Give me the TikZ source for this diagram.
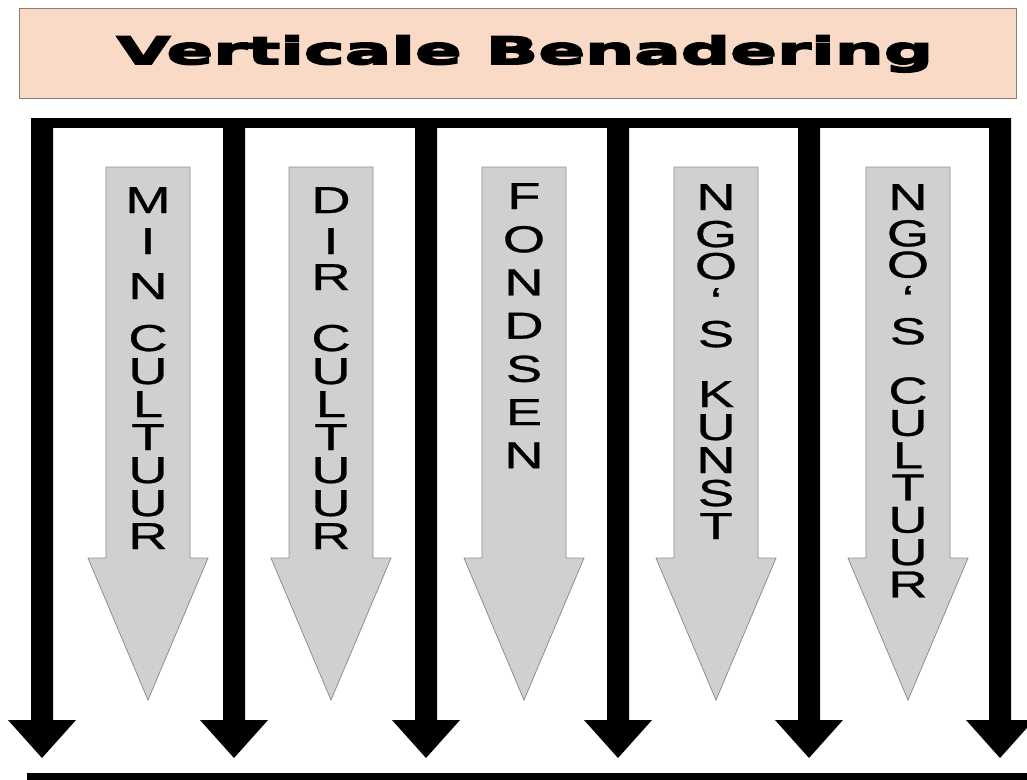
\documentclass[tikz,border=0pt]{standalone}
\usepackage{fontspec}
\newfontfamily\titlefont[FakeStretch=1.84,FakeBold=5]{DejaVu Sans}
\newfontfamily\labelfont[FakeStretch=1.45,FakeBold=0.8]{Liberation Sans}
\definecolor{titlefill}{HTML}{F9DAC6}
\definecolor{titleedge}{HTML}{8B7B70}
\definecolor{arrowgrey}{HTML}{D0D0D0}
\definecolor{arrowedge}{HTML}{8F8F8F}
\tikzset{
	bararrow/.style = {fill = black},
	greyarrow/.style = {fill = arrowgrey, draw = arrowedge, line width = 0.8pt},
	letters/.style = {anchor = north, inner sep = 0pt, align = center, font = \labelfont\fontsize{37.5}{#1}\selectfont},
	letters/.default = 33
}

\begin{document}
\begin{tikzpicture}[x = 1pt, y = -1pt]
	\useasboundingbox (0, 0) rectangle (1027, 779);
	\clip (0, 0) rectangle (1027, 779);
	\fill[white] (0, 0) rectangle (1027, 779);
%%%%%%%%%%%
	\draw[draw = titleedge, fill = titlefill, line width = 0.8pt] (19, 8) rectangle (1016, 98);
	\node[anchor = base, inner sep = 0pt, font = \titlefont\bfseries\fontsize{37.5}{40}\selectfont] (title) at (525, 64) {Verticale Benadering};
%%%%%%%%%%%
	\fill (31, 118) rectangle (1011, 128);
	\fill (27, 773) rectangle (1027, 790);
	\fill[bararrow] (31, 118) -- +(22, 0) -- +(22, 602) -- +(45, 602) -- +(11, 640) -- +(-23, 602) -- +(0, 602) -- cycle;
	\fill[bararrow] (223, 118) -- +(22, 0) -- +(22, 602) -- +(45, 602) -- +(11, 640) -- +(-23, 602) -- +(0, 602) -- cycle;
	\fill[bararrow] (415, 118) -- +(22, 0) -- +(22, 602) -- +(45, 602) -- +(11, 640) -- +(-23, 602) -- +(0, 602) -- cycle;
	\fill[bararrow] (607, 118) -- +(22, 0) -- +(22, 602) -- +(45, 602) -- +(11, 640) -- +(-23, 602) -- +(0, 602) -- cycle;
	\fill[bararrow] (798, 118) -- +(22, 0) -- +(22, 602) -- +(45, 602) -- +(11, 640) -- +(-23, 602) -- +(0, 602) -- cycle;
	\fill[bararrow] (989, 118) -- +(22, 0) -- +(22, 602) -- +(45, 602) -- +(11, 640) -- +(-23, 602) -- +(0, 602) -- cycle;
%%%%%%%%%%%
	\filldraw[greyarrow] (106, 167) -- +(84, 0) -- +(84, 391) -- +(102, 391) -- +(42, 533) -- +(-18, 391) -- +(0, 391) -- cycle;
	\filldraw[greyarrow] (289, 167) -- +(84, 0) -- +(84, 391) -- +(102, 391) -- +(42, 533) -- +(-18, 391) -- +(0, 391) -- cycle;
	\filldraw[greyarrow] (482, 167) -- +(84, 0) -- +(84, 391) -- +(102, 391) -- +(42, 533) -- +(-18, 391) -- +(0, 391) -- cycle;
	\filldraw[greyarrow] (674, 167) -- +(84, 0) -- +(84, 391) -- +(102, 391) -- +(42, 533) -- +(-18, 391) -- +(0, 391) -- cycle;
	\filldraw[greyarrow] (866, 167) -- +(84, 0) -- +(84, 391) -- +(102, 391) -- +(42, 533) -- +(-18, 391) -- +(0, 391) -- cycle;
%%%%%%%%%%%
	\node[letters] (mincult) at (148, 187) {M\\[8pt]I\\[12pt]N\\[19pt]C\\U\\L\\T\\U\\U\\R};
	\node[letters] (dircult) at (331, 187) {D\\[8pt]I\\[3pt]R\\[28pt]C\\U\\L\\T\\U\\U\\R};
	\node[letters = 43.2] (fondsen) at (524, 183) {F\\O\\N\\D\\S\\E\\N};
	\node[letters] (ngokunst) at (716, 184) {N\\[4pt]G\\[-1pt]O\\[2pt]‘\\S\\[27pt]K\\U\\N\\S\\T};
	\node[letters = 32.3] (ngocult) at (908, 184) {N\\[4pt]G\\[-1pt]O\\[2pt]‘\\S\\[27pt]C\\U\\L\\T\\U\\U\\R};
\end{tikzpicture}
\end{document}
